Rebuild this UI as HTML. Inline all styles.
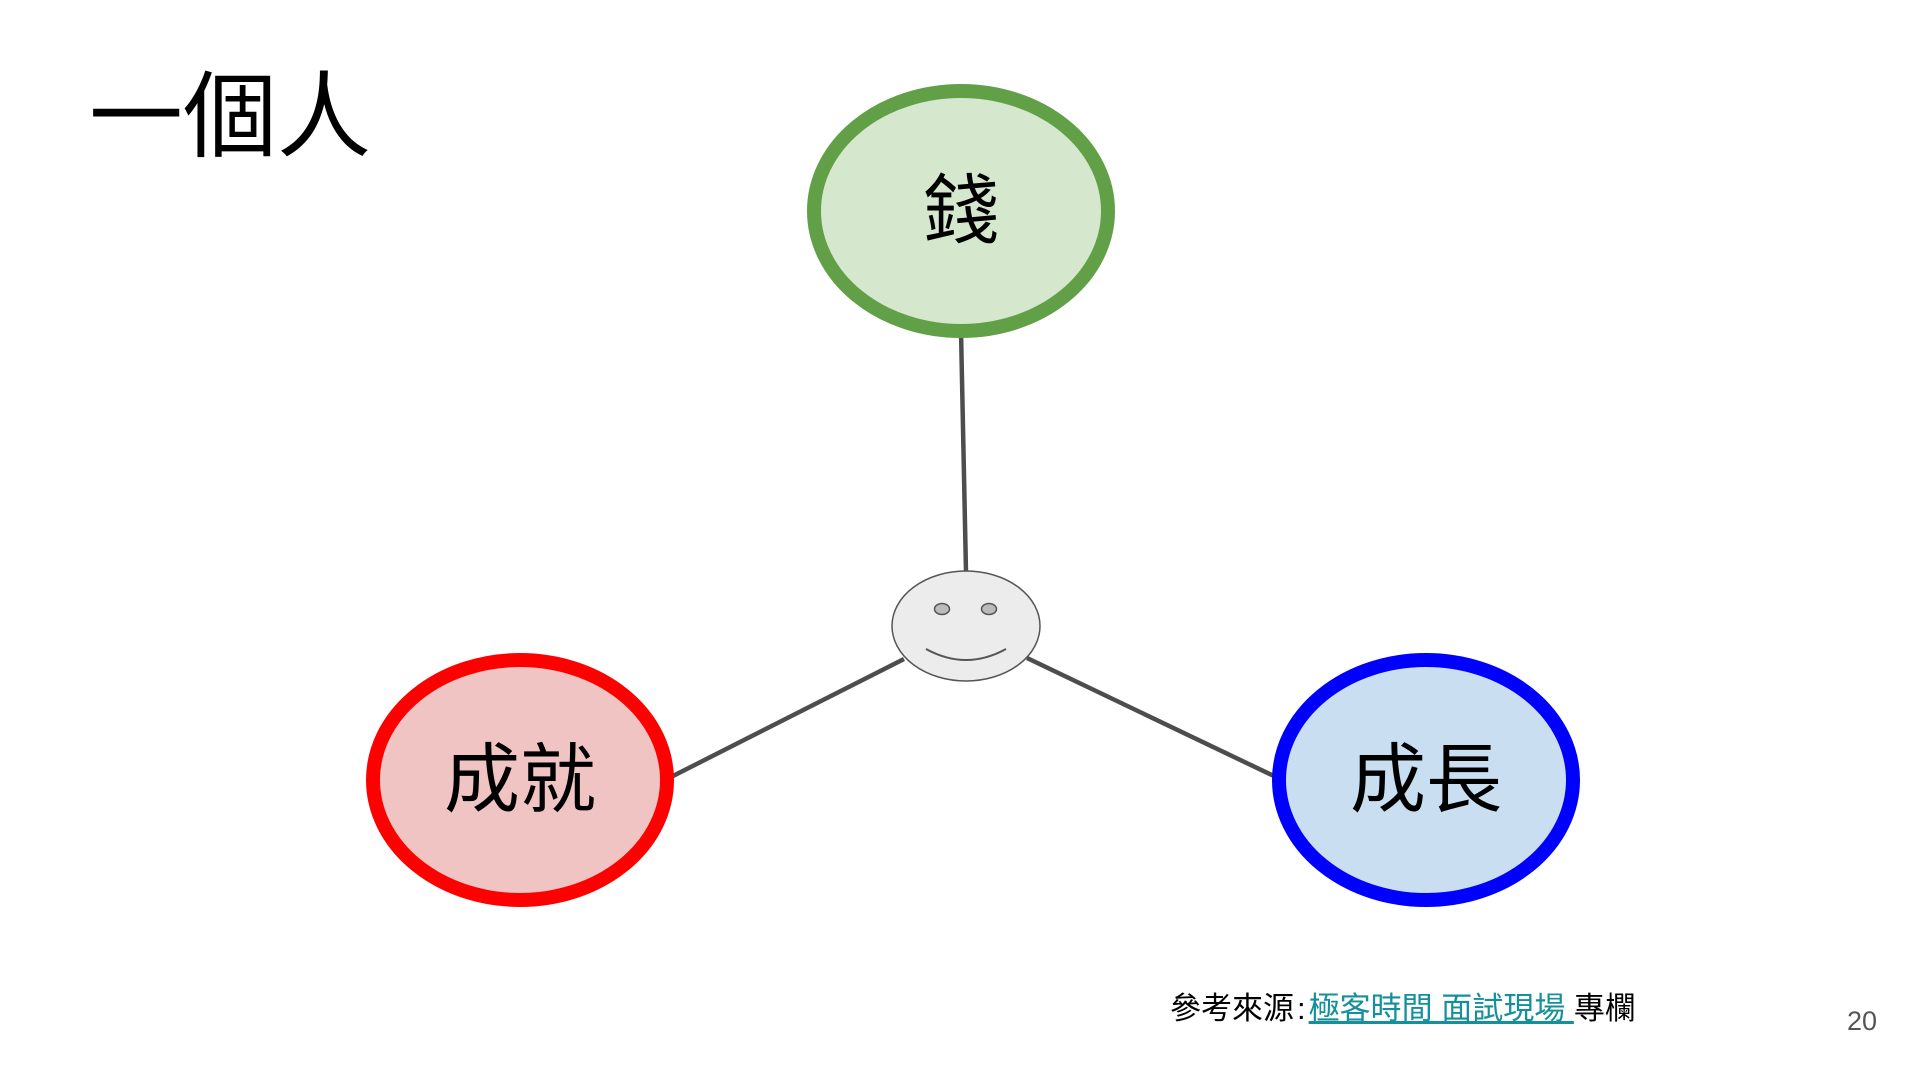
<!DOCTYPE html>
<html><head><meta charset="utf-8"><style>
html,body{margin:0;padding:0;background:#fff;}
body{width:1921px;height:1081px;position:relative;overflow:hidden;font-family:"Liberation Sans","Noto Sans CJK TC",sans-serif;}
.t{position:absolute;white-space:nowrap;}
a{color:#14909c;text-decoration:underline;}
</style></head><body>
<svg width="1921" height="1081" style="position:absolute;left:0;top:0">
<line x1="961" y1="331" x2="966" y2="572" stroke="#4d4d4d" stroke-width="4.5"/>
<line x1="904" y1="659" x2="669" y2="778" stroke="#4d4d4d" stroke-width="4.5"/>
<line x1="1027" y1="658" x2="1278" y2="778" stroke="#4d4d4d" stroke-width="4.5"/>
<ellipse cx="961" cy="211" rx="147" ry="120" fill="#d5e7cd" stroke="#62a048" stroke-width="14"/>
<ellipse cx="520" cy="780" rx="147" ry="120" fill="#f1c4c4" stroke="#ff0000" stroke-width="14"/>
<ellipse cx="1426" cy="780" rx="147" ry="120" fill="#c9dff1" stroke="#0000ff" stroke-width="14"/>
<ellipse cx="966" cy="626" rx="74" ry="55" fill="#ececec" stroke="#555" stroke-width="1.5"/>
<ellipse cx="942" cy="609" rx="7.5" ry="5.5" fill="#bbb" stroke="#555" stroke-width="1.5"/>
<ellipse cx="989" cy="609" rx="7.5" ry="5.5" fill="#bbb" stroke="#555" stroke-width="1.5"/>
<path d="M926 649 Q966 671 1006 649" fill="none" stroke="#555" stroke-width="2"/>
<text x="961" y="237" font-size="76" text-anchor="middle" font-family="Noto Sans CJK TC,sans-serif">錢</text>
<text x="520" y="806" font-size="76" text-anchor="middle" font-family="Noto Sans CJK TC,sans-serif">成就</text>
<text x="1426" y="806" font-size="76" text-anchor="middle" font-family="Noto Sans CJK TC,sans-serif">成長</text>
</svg>
<div class="t" style="left:89px;top:52px;font-size:94px;line-height:130px;">一個人</div>
<div class="t" style="left:1170px;top:987px;font-size:31px;line-height:44px;">參考來源<span style="margin:0 3px">:</span><a>極客時間 面試現場 </a>專欄</div>
<div class="t" style="left:1847px;top:1006px;font-size:27px;line-height:30px;color:#555;">20</div>
</body></html>
